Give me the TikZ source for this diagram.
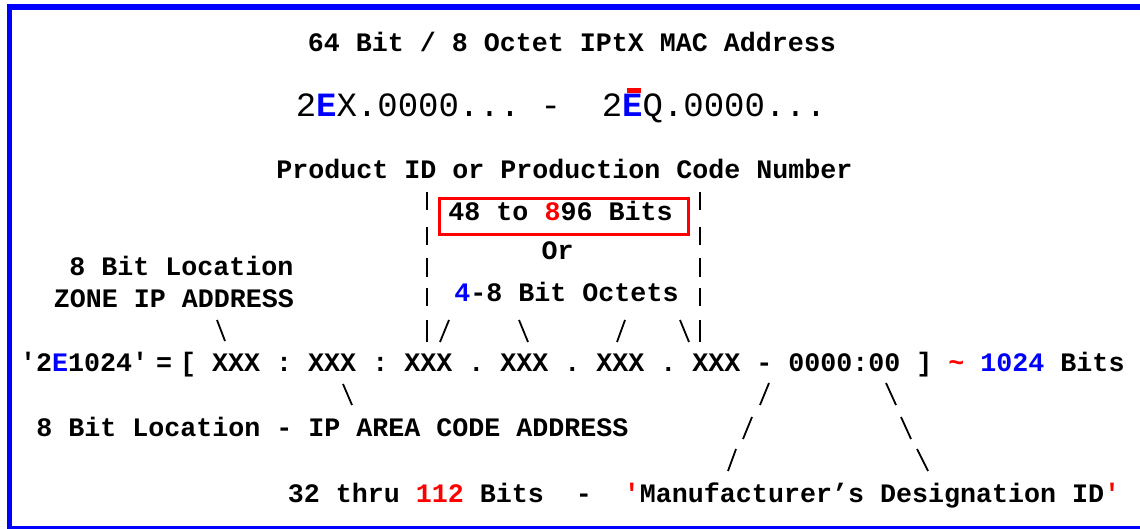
\documentclass[tikz,border=0pt]{standalone}
\usepackage{xcolor}
\usepackage{fontspec}
\setmonofont{Liberation Mono}
\usepackage{tikz}
\frenchspacing

\begin{document}
\begin{tikzpicture}[x=1pt,y=-1pt,
        txt/.style={font=\ttfamily\bfseries\fontsize{26.67}{30}\selectfont, inner sep=0pt, anchor=base},
        big/.style={font=\ttfamily\fontsize{34}{38}\selectfont, inner sep=0pt, anchor=base},
        stroke/.style={line width=1.8pt}]

        % page and blue frame
        \useasboundingbox (0,0) rectangle (1140,529);
        \clip (0,0) rectangle (1140,529);
        \draw[blue, line width=5.5pt] (9.5,7) rectangle (1160,528.5);

        % heading and address range
        \node[txt] (title) at (572,51.5) {64 Bit / 8 Octet IPtX MAC Address};
        \node[big] (range) at (561,117) {2{\bfseries\color{blue}E}X.0000... -\ \ 2{\bfseries\color{blue}E}Q.0000...};
        \fill[red] (627,88) rectangle (641,93.5);

        % product code block
        \node[txt] (prod) at (564.5,179) {Product ID or Production Code Number};
        \node[draw=red, line width=3pt, minimum width=249pt, minimum height=36pt, inner sep=0pt] (bitbox) at (564,216.5) {};
        \node[txt] (bits) at (560.5,221) {48 to {\color{red}8}96 Bits};
        \node[txt] (or) at (557.5,260) {Or};
        \node[txt] (octets) at (566.5,301.5) {{\color{blue}4}-8 Bit Octets};

        % zone labels
        \node[txt] (loc) at (181.5,276) {8 Bit Location};
        \node[txt] (zone) at (174,307) {ZONE IP ADDRESS};

        % the address itself
        \node[txt, anchor=base west] (addr) at (20,371) {'2{\color{blue}E}1024'\hspace{8pt}=\hspace{8pt}[ XXX : XXX : XXX . XXX . XXX . XXX - 0000:00 ] {\color{red}\textasciitilde} {\color{blue}1024} Bits};

        % labels under the address
        \node[txt] (area) at (332.5,436) {8 Bit Location - IP AREA CODE ADDRESS};
        \node[txt] (maker) at (704,502) {32 thru {\color{red}112} Bits\ \ -\ \ {\color{red}'}Manufacturer’s Designation ID{\color{red}'}};

        % bars on both sides of the octet block
        \foreach \ya/\yb in {192/210, 227/245, 258/277, 288/306, 320/342} {
            \draw[stroke] (427,\ya) -- (427,\yb);
            \draw[stroke] (700,\ya) -- (700,\yb);
        }

        % slashes pointing at the address parts
        \foreach \xa/\ya/\xb/\yb in {217/320/225/341, 449/320/440/342, 519/320/528/342, 625/320/617/342, 680/320/689/342,
                343/384/352/405, 769/383/760/405, 886/383/896/405,
                752/417/743/439, 901/417/911/439,
                736/449/728/471, 917/449/928/471}
            \draw[stroke] (\xa,\ya) -- (\xb,\yb);
\end{tikzpicture}
\end{document}
